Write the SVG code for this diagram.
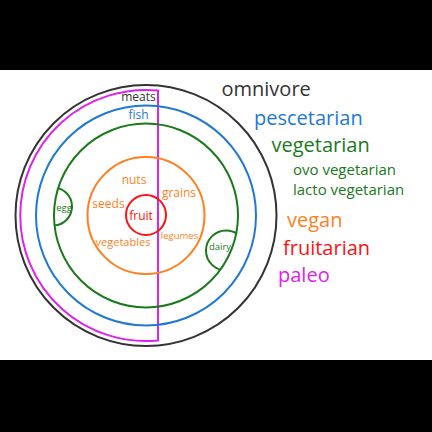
<svg xmlns="http://www.w3.org/2000/svg" width="432" height="432" viewBox="0 0 432 432">
<style>
text{font-family:"Open Sans","Noto Sans","DejaVu Sans",sans-serif}
.ring{fill:none;stroke-width:2}
.k{stroke:#333333}.b{stroke:#1f78d4}.g{stroke:#1a7a1a}.o{stroke:#ff7f1e}.r{stroke:#ff1111}.m{stroke:#dd22ee}
.tk{fill:#333333}.tb{fill:#1f78d4}.tg{fill:#1a7a1a}.to{fill:#ff7f1e}.tr{fill:#ff1111}.tm{fill:#dd22ee}
.big{font-size:20px}.mid{font-size:15px}.in{font-size:12px;text-anchor:middle}.sm{font-size:9.5px;text-anchor:middle}
</style>
<defs>
<clipPath id="veg"><circle cx="146" cy="215.5" r="92"/></clipPath>
</defs>
<rect x="0" y="0" width="432" height="432" fill="#000"/>
<rect x="0" y="70" width="432" height="290" fill="#fff"/>
<g id="connectors"></g>
<g id="omnivore"><circle class="ring k" cx="146" cy="215.5" r="130.5"/></g>
<g id="paleo"><path class="ring m" d="M158,90.6 A125.5,125.5 0 1 0 158,340.4 Z"/></g>
<g id="pescetarian"><circle class="ring b" cx="146" cy="215.5" r="110"/></g>
<g id="vegetarian"><circle class="ring g" cx="146" cy="215.5" r="92"/></g>
<g id="egg"><circle class="ring g" cx="53" cy="206.5" r="19" clip-path="url(#veg)"/><text class="sm tg" x="64" y="211">egg</text></g>
<g id="dairy"><circle class="ring g" cx="226" cy="250.5" r="20" clip-path="url(#veg)"/><text class="sm tg" x="220" y="250">dairy</text></g>
<g id="vegan"><circle class="ring o" cx="146" cy="215.5" r="58.5"/></g>
<g id="fruitarian"><circle class="ring r" cx="146" cy="215" r="20"/></g>
<g id="labels-inner">
<text class="in tk" x="138.5" y="101">meats</text>
<text class="in tb" x="138.5" y="118.5">fish</text>
<text class="in to" x="134" y="183.5">nuts</text>
<text class="in to" x="179" y="197">grains</text>
<text class="in to" x="108.5" y="207.5">seeds</text>
<text class="in tr" x="141" y="219.5">fruit</text>
<text class="in to" x="123" y="245.5" style="font-size:11px">vegetables</text>
<text class="sm to" x="179.5" y="238.5">legumes</text>
</g>
<g id="legend">
<text class="big tk" x="221.5" y="96">omnivore</text>
<text class="big tb" x="254" y="124.5">pescetarian</text>
<text class="big tg" x="271.5" y="151.5">vegetarian</text>
<text class="mid tg" x="293" y="174.5">ovo vegetarian</text>
<text class="mid tg" x="293" y="194.5">lacto vegetarian</text>
<text class="big to" x="287" y="226.5">vegan</text>
<text class="big tr" x="283" y="254.5">fruitarian</text>
<text class="big tm" x="278" y="281.5">paleo</text>
</g>
</svg>
